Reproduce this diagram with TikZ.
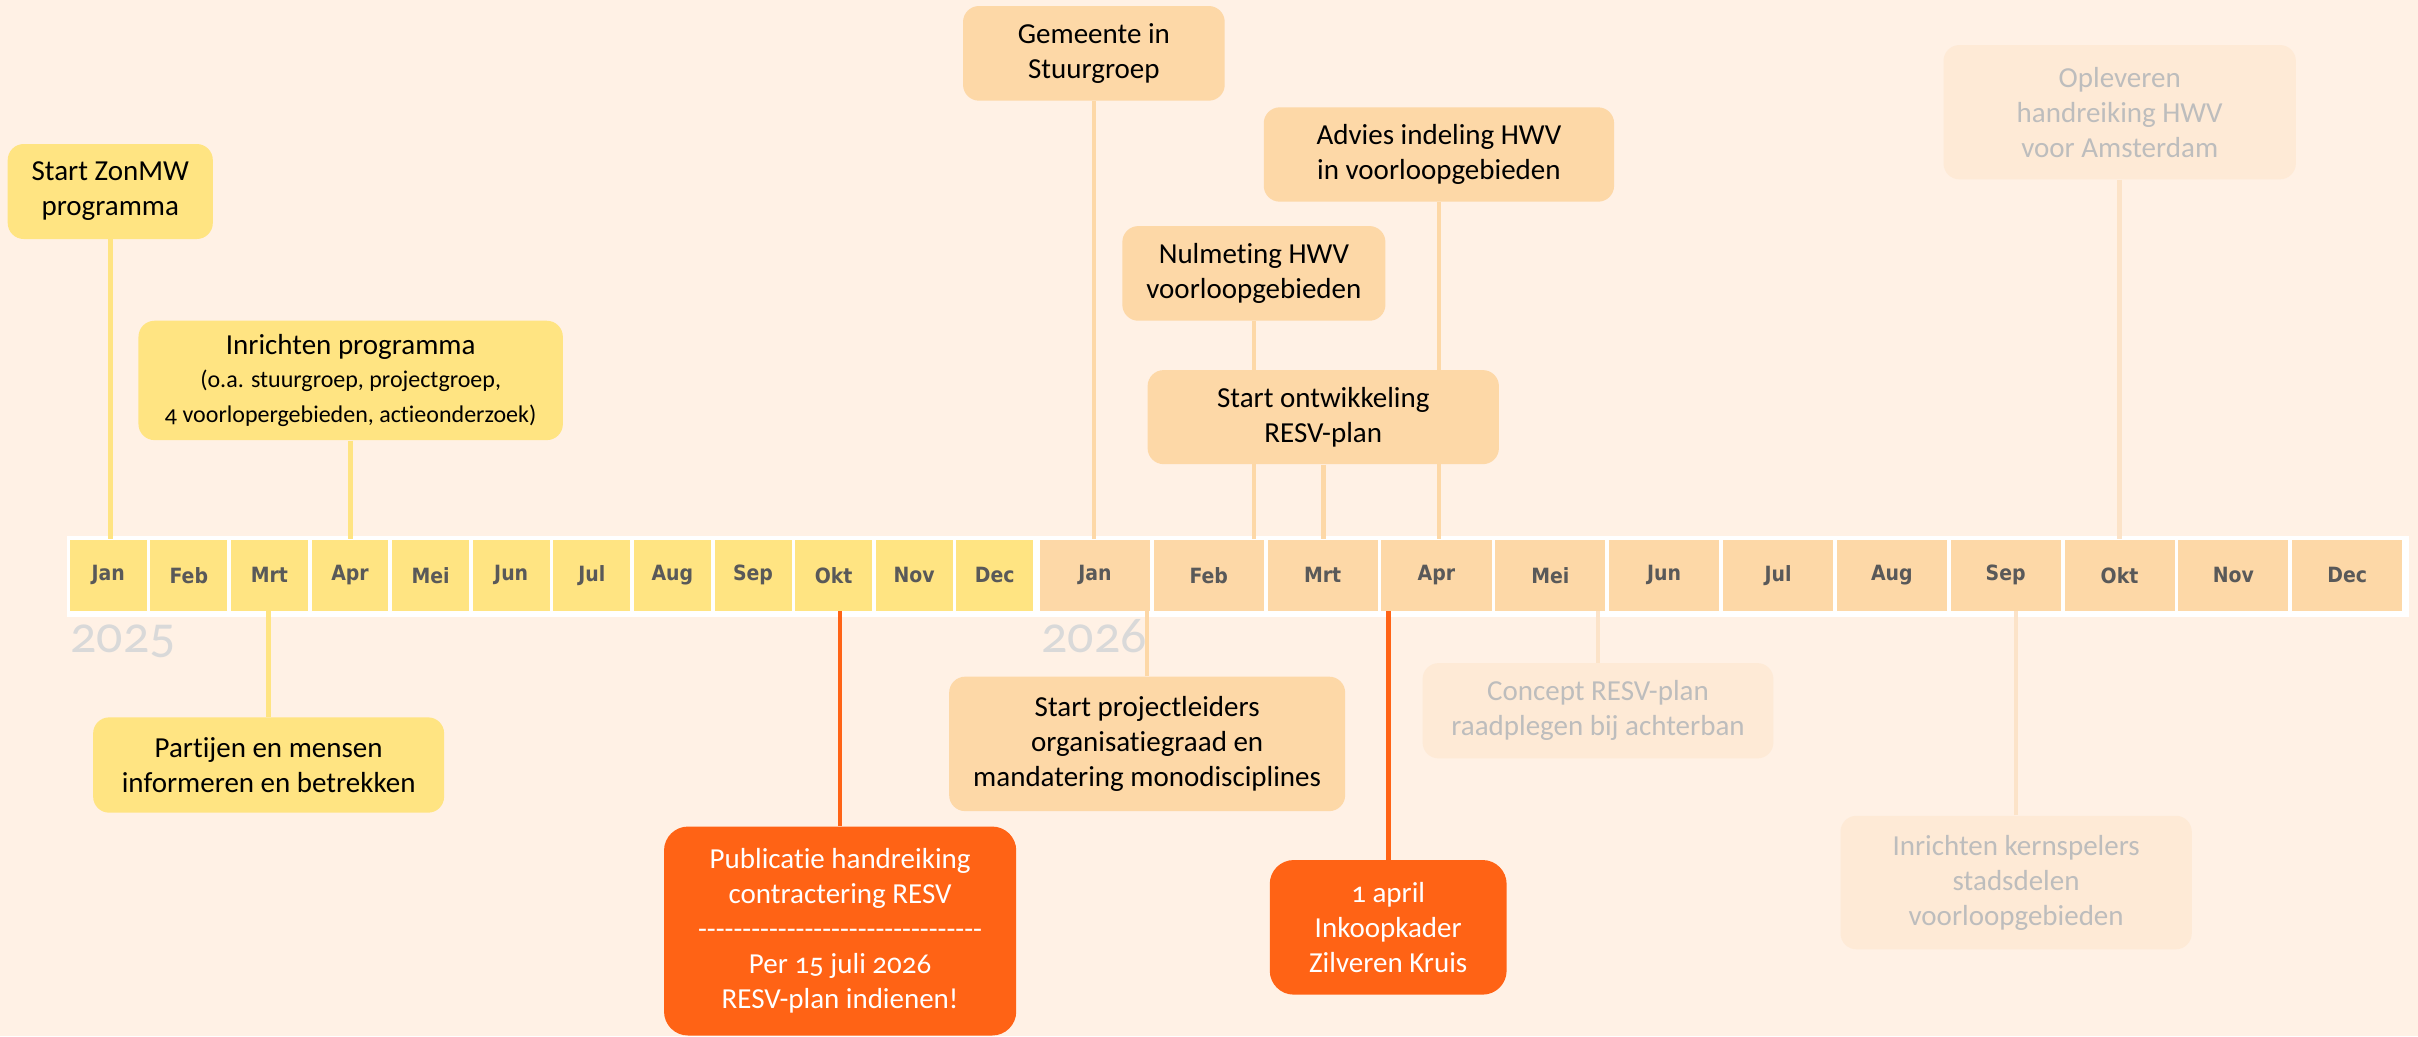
\documentclass[tikz,border=0pt]{standalone}
\usepackage{fontspec}
\setmainfont{Carlito}[Numbers=OldStyle,Ligatures=NoCommon]
\newfontfamily\monthfont{DejaVu Sans}[FakeStretch=0.9]
\usetikzlibrary{calc}
\pgfdeclarelayer{bglayer}
\pgfsetlayers{bglayer,main}
\definecolor{bgcol}{HTML}{FFF1E5}
\definecolor{yel}{HTML}{FFE482}
\definecolor{pch}{HTML}{FDD8A7}
\definecolor{org}{HTML}{FF6315}
\definecolor{fadefill}{HTML}{FEEAD6}
\definecolor{fadeline}{HTML}{FCE3C8}
\definecolor{fadetext}{HTML}{BDBDBD}
\definecolor{yeartext}{HTML}{D9D9D9}
\definecolor{monthtext}{HTML}{595959}
\newcommand\hy{\hbox{-}}
\newcommand\smalltxt{\fontsize{12}{14.5}\selectfont}
\begin{document}
\begin{tikzpicture}[x=0.771pt,y=-0.771pt,
  sz/.style 2 args={minimum width=#1*0.771pt,minimum height=#2*0.771pt},
  evbox/.style={rounded corners=8pt,inner sep=0pt,align=center,font=\fontsize{14.5}{17.5}\selectfont,text=black},
  ybox/.style={evbox,fill=yel},
  pbox/.style={evbox,fill=pch},
  obox/.style={evbox,fill=org,text=white,rounded corners=12pt},
  fbox/.style={evbox,fill=fadefill,text=fadetext},
  cellbase/.style={inner sep=0pt,font=\monthfont\bfseries\fontsize{10.5}{12}\selectfont,text=monthtext},
  cellA/.style={cellbase,fill=yel,sz={49.9}{46}},
  cellB/.style={cellbase,fill=pch,sz={71.4}{46}},
  yline/.style={draw=yel,line width=2.3pt},
  pline/.style={draw=pch,line width=2.3pt},
  oline/.style={draw=org,line width=2.3pt},
  fline/.style={draw=fadeline,line width=2.3pt},
  yearlbl/.style={anchor=base west,inner sep=0pt,text=yeartext,font=\fontsize{26}{30}\selectfont}
]
\begin{pgfonlayer}{bglayer}
\fill[bgcol] (0,0) rectangle (1568,672);
\node[yearlbl] (y25) at (45.5,423) {2025};
\node[yearlbl] (y26) at (675,423) {2026};
\fill[white] (43.7,347.4) rectangle (1562,399.9);
\end{pgfonlayer}
\useasboundingbox (0,0) rectangle (1568,672);

% month cells
\foreach \m [count=\i] in {Jan,Feb,Mrt,Apr,Mei,Jun,Jul,Aug,Sep,Okt,Nov,Dec}{
  \node[cellA] (c\i) at ({70.15+(\i-1)*52.27},373) {\m};
  \node[cellB] (d\i) at ({710.0+(\i-1)*73.83},373) {\m};
}

% event boxes 2025
\node[ybox,sz={133}{61.6}] (A) at (71.5,124.2) {Start ZonMW\\programma};
\node[ybox,sz={275.2}{77.4}] (B) at (227.4,246.7) {Inrichten programma\\[-1pt]\smalltxt (o.a. stuurgroep, projectgroep,\\\smalltxt 4 voorlopergebieden, actieonderzoek)};
\node[ybox,sz={227.6}{61.8}] (C) at (174.2,496.1) {Partijen en mensen\\informeren en betrekken};
\node[obox,sz={228.4}{135.5}] (D) at (544.8,603.75) {Publicatie handreiking\\contractering RESV\\\hy\hy\hy\hy\hy\hy\hy\hy\hy\hy\hy\hy\hy\hy\hy\hy\hy\hy\hy\hy\hy\hy\hy\hy\hy\hy\hy\hy\hy\hy\hy\hy\\Per 15 juli 2026\\RESV-plan indienen!};

% event boxes 2026
\node[pbox,sz={169.7}{61.4}] (E) at (709.35,34.6) {Gemeente in\\Stuurgroep};
\node[pbox,sz={227.2}{61.2}] (F) at (933.1,100.2) {Advies indeling HWV\\in voorloopgebieden};
\node[pbox,sz={170.6}{61.4}] (G) at (813.1,177.3) {Nulmeting HWV\\voorloopgebieden};
\node[pbox,sz={227.8}{61}] (H) at (858.1,270.5) {Start ontwikkeling\\RESV-plan};
\node[pbox,sz={256.8}{87.2}] (I) at (743.9,482.4) {Start projectleiders\\organisatiegraad en\\mandatering monodisciplines};
\node[obox,sz={153.6}{87.3}] (J) at (900.2,601.35) {1 april\\Inkoopkader\\Zilveren Kruis};
\node[fbox,sz={227.5}{61.8}] (K) at (1036.25,460.9) {Concept RESV-plan\\raadplegen bij achterban};
\node[fbox,sz={227.8}{86.6}] (L) at (1307.4,572.3) {Inrichten kernspelers\\stadsdelen\\voorloopgebieden};
\node[fbox,sz={228.5}{87.1}] (M) at (1374.55,72.75) {Opleveren\\handreiking HWV\\voor Amsterdam};

% connectors
\begin{pgfonlayer}{bglayer}
\draw[yline] (A.south) -- (A.south |- c1.north);
\draw[yline] (B.south) -- (B.south |- c4.north);
\draw[yline] (C.north) -- (C.north |- c3.south);
\draw[oline] (D.north) -- (D.north |- c10.south);
\draw[pline] (E.south) -- (E.south |- d1.north);
\draw[pline] (F.south) -- (F.south |- d4.north);
\draw[pline] (G.south) -- (G.south |- d2.north);
\draw[pline] (H.south) -- (H.south |- d3.north);
\draw[pline] (I.north) -- (I.north |- d1.south);
\draw[oline] (J.north) -- (J.north |- d4.south);
\draw[fline] (K.north) -- (K.north |- d5.south);
\draw[fline] (L.north) -- (L.north |- d9.south);
\draw[fline] (M.south) -- (M.south |- d10.north);
\end{pgfonlayer}
\end{tikzpicture}
\end{document}
